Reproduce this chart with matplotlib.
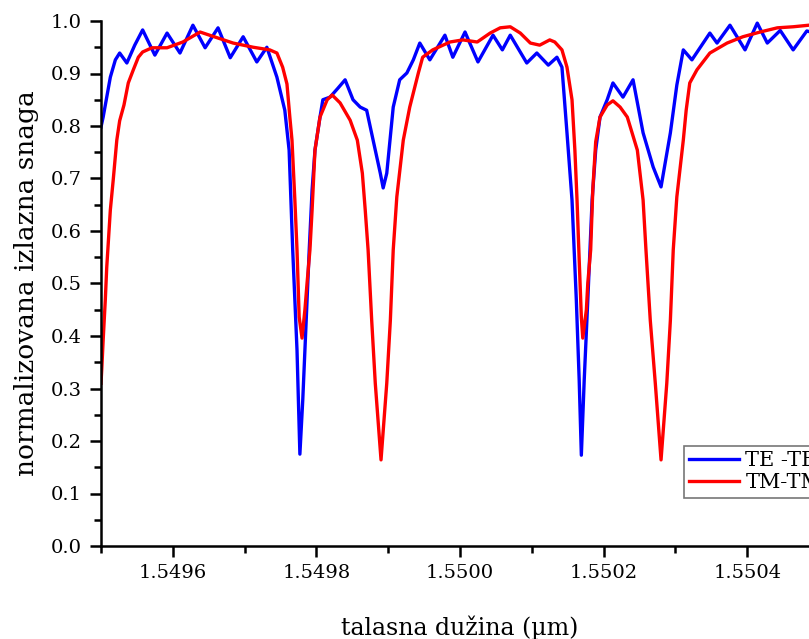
import matplotlib
matplotlib.use("Agg")
import matplotlib.pyplot as plt
from matplotlib.ticker import MultipleLocator, FormatStrFormatter

# wavelength (um) and normalized output power
te_wl = [1.549500, 1.549503, 1.549513, 1.549520, 1.549526, 1.549536, 1.549547, 1.549558,
         1.549575, 1.549592, 1.549610, 1.549628, 1.549645, 1.549663, 1.549680, 1.549698,
         1.549717, 1.549731, 1.549745, 1.549756, 1.549762, 1.549767, 1.549773, 1.549777,
         1.549781, 1.549784, 1.549790, 1.549794, 1.549798, 1.549805, 1.549809, 1.549819,
         1.549830, 1.549840, 1.549851, 1.549861, 1.549870, 1.549879, 1.549889, 1.549893,
         1.549898, 1.549907, 1.549916, 1.549926, 1.549935, 1.549944, 1.549958, 1.549979,
         1.549990, 1.550007, 1.550025, 1.550046, 1.550059, 1.550070, 1.550093, 1.550107,
         1.550123, 1.550135, 1.550142, 1.550149, 1.550156, 1.550162, 1.550166, 1.550169,
         1.550173, 1.550178, 1.550184, 1.550189, 1.550195, 1.550205, 1.550213, 1.550227,
         1.550241, 1.550255, 1.550269, 1.550280, 1.550293, 1.550302, 1.550311, 1.550323,
         1.550348, 1.550358, 1.550376, 1.550397, 1.550414, 1.550428, 1.550446, 1.550464,
         1.550483, 1.550500]
te_pow = [0.798, 0.817, 0.893, 0.926, 0.939, 0.920, 0.954, 0.983,
          0.935, 0.977, 0.939, 0.992, 0.949, 0.987, 0.930, 0.970,
          0.922, 0.950, 0.893, 0.830, 0.754, 0.564, 0.373, 0.175,
          0.278, 0.373, 0.564, 0.678, 0.754, 0.817, 0.850, 0.855,
          0.872, 0.888, 0.850, 0.836, 0.830, 0.773, 0.710, 0.682,
          0.710, 0.836, 0.888, 0.901, 0.926, 0.958, 0.926, 0.973,
          0.931, 0.979, 0.922, 0.973, 0.945, 0.973, 0.920, 0.939,
          0.916, 0.931, 0.912, 0.787, 0.659, 0.469, 0.316, 0.173,
          0.316, 0.469, 0.659, 0.754, 0.817, 0.850, 0.882, 0.855,
          0.888, 0.787, 0.722, 0.684, 0.787, 0.878, 0.945, 0.926,
          0.977, 0.958, 0.992, 0.945, 0.996, 0.958, 0.982, 0.945,
          0.981, 0.975]

tm_wl = [1.549500, 1.549501, 1.549503, 1.549506, 1.549508, 1.549513, 1.549517, 1.549522,
         1.549526, 1.549532, 1.549538, 1.549545, 1.549552, 1.549558, 1.549571, 1.549592,
         1.549614, 1.549638, 1.549662, 1.549684, 1.549712, 1.549735, 1.549745, 1.549753,
         1.549759, 1.549763, 1.549766, 1.549770, 1.549773, 1.549776, 1.549780, 1.549784,
         1.549787, 1.549791, 1.549794, 1.549798, 1.549805, 1.549815, 1.549822, 1.549833,
         1.549847, 1.549857, 1.549864, 1.549868, 1.549872, 1.549877, 1.549882, 1.549890,
         1.549898, 1.549903, 1.549907, 1.549912, 1.549921, 1.549930, 1.549942, 1.549948,
         1.549962, 1.549986, 1.550004, 1.550024, 1.550042, 1.550056, 1.550070, 1.550084,
         1.550098, 1.550111, 1.550125, 1.550132, 1.550142, 1.550149, 1.550156, 1.550160,
         1.550163, 1.550166, 1.550169, 1.550171, 1.550176, 1.550178, 1.550182, 1.550185,
         1.550189, 1.550195, 1.550205, 1.550213, 1.550223, 1.550233, 1.550247, 1.550255,
         1.550259, 1.550265, 1.550272, 1.550280, 1.550288, 1.550293, 1.550297, 1.550302,
         1.550311, 1.550315, 1.550320, 1.550330, 1.550348, 1.550372, 1.550394, 1.550418,
         1.550442, 1.550464, 1.550486, 1.550500]
tm_pow = [0.310, 0.335, 0.392, 0.469, 0.531, 0.640, 0.697, 0.773,
          0.810, 0.840, 0.882, 0.907, 0.931, 0.941, 0.949, 0.949,
          0.960, 0.979, 0.968, 0.958, 0.950, 0.945, 0.939, 0.912,
          0.880, 0.817, 0.773, 0.659, 0.564, 0.436, 0.396, 0.450,
          0.501, 0.564, 0.640, 0.754, 0.817, 0.850, 0.859, 0.844,
          0.811, 0.773, 0.710, 0.640, 0.564, 0.430, 0.310, 0.164,
          0.310, 0.430, 0.564, 0.665, 0.773, 0.836, 0.901, 0.931,
          0.945, 0.960, 0.964, 0.960, 0.977, 0.987, 0.989, 0.977,
          0.958, 0.954, 0.964, 0.960, 0.945, 0.912, 0.850, 0.754,
          0.659, 0.545, 0.436, 0.396, 0.450, 0.501, 0.564, 0.680,
          0.770, 0.817, 0.840, 0.848, 0.836, 0.817, 0.754, 0.659,
          0.564, 0.430, 0.310, 0.164, 0.310, 0.430, 0.564, 0.665,
          0.773, 0.830, 0.882, 0.907, 0.939, 0.958, 0.970, 0.979,
          0.987, 0.989, 0.992, 0.990]

plt.rcParams["font.family"] = ["DejaVu Serif"]

fig = plt.figure(figsize=(8.09, 6.39), dpi=100)
# axes runs a bit past the right edge of the figure, like the cropped original
ax = fig.add_axes([101 / 809, 93 / 639, 718 / 809, 525 / 639])

ax.plot(te_wl, te_pow, color="#0000ff", lw=2.4, label="TE -TE")
ax.plot(tm_wl, tm_pow, color="#ff0000", lw=2.4, label="TM-TM")

ax.set_xlim(1.5495, 1.5505)
ax.set_ylim(0, 1.0)
ax.xaxis.set_major_locator(MultipleLocator(0.0002))
ax.xaxis.set_minor_locator(MultipleLocator(0.0001))
ax.yaxis.set_major_locator(MultipleLocator(0.1))
ax.yaxis.set_minor_locator(MultipleLocator(0.05))
ax.xaxis.set_major_formatter(FormatStrFormatter("%.4f"))
ax.yaxis.set_major_formatter(FormatStrFormatter("%.1f"))

for s in ["top", "right"]:
    ax.spines[s].set_visible(False)
for s in ["left", "bottom"]:
    ax.spines[s].set_linewidth(1.8)
ax.tick_params(which="major", direction="out", length=8, width=1.8, labelsize=14, pad=6)
ax.tick_params(which="minor", direction="out", length=5, width=1.8)
ax.tick_params(axis="x", pad=5)

ax.set_xlabel("talasna dužina (µm)", fontsize=17, labelpad=24)
ax.set_ylabel("normalizovana izlazna snaga", fontsize=19, labelpad=8)

leg = ax.legend(loc="upper left", bbox_to_anchor=(684 / 809, 1 - 446 / 639),
                bbox_transform=fig.transFigure, fancybox=False, fontsize=15,
                handlelength=2.4, borderpad=0.25, labelspacing=0.15, handletextpad=0.3,
                borderaxespad=0)
leg.get_frame().set_edgecolor("#555555")
leg.get_frame().set_linewidth(1.2)

fig.savefig("out.png", dpi=100)
